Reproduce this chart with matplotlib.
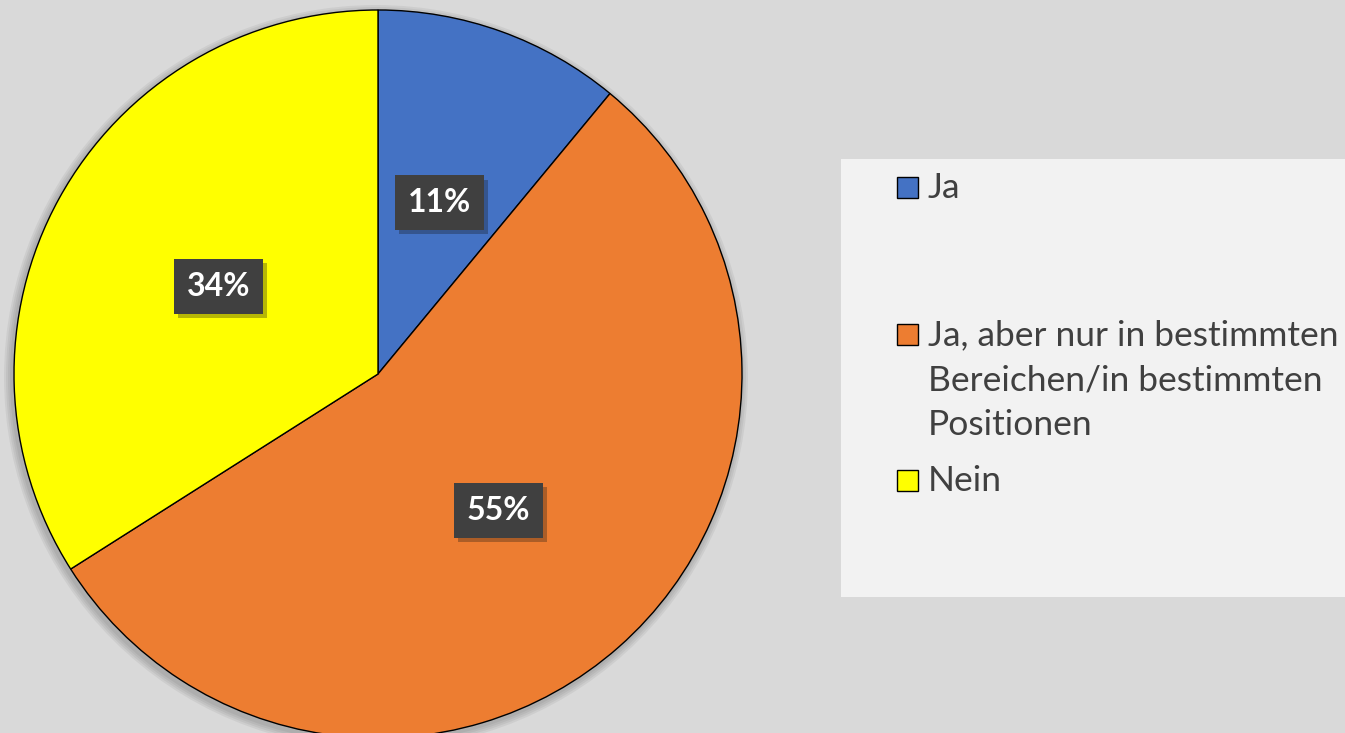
import matplotlib.pyplot as plt
from matplotlib.patches import Rectangle, Circle
import matplotlib.patheffects as pe

# Daten
labels = ["Ja", "Ja, aber nur in bestimmten\nBereichen/in bestimmten\nPositionen", "Nein"]
werte = [11, 55, 34]
farben = ["#4472C4", "#ED7D31", "#FFFF00"]

W, H = 1345, 733
fig = plt.figure(figsize=(W / 100, H / 100), dpi=100)
fig.patch.set_facecolor("#d9d9d9")
ax = fig.add_axes([0, 0, 1, 1])

mitte = (378, H - 374)
radius = 364

# weicher Schatten unter dem Kreis
for i in range(4):
    ax.add_patch(Circle((mitte[0] - 2, mitte[1] - 3), radius + 8 - 2 * i,
                        facecolor="black", edgecolor="none", alpha=0.05, zorder=0))

wedges, texts, autotexts = ax.pie(
    werte, colors=farben, startangle=90, counterclock=False,
    center=mitte, radius=radius, frame=True,
    autopct="%1.0f%%", pctdistance=0.5,
    wedgeprops=dict(edgecolor="black", linewidth=1.0),
    textprops=dict(color="white", fontsize=23, fontweight="bold", family="Lato"))
ax.set_xlim(0, W)
ax.set_ylim(0, H)
ax.axis("off")

for t in autotexts:
    t.set_bbox(dict(boxstyle="square,pad=0.4", facecolor="#404040", edgecolor="none"))
    t.get_bbox_patch().set_path_effects([pe.SimplePatchShadow(offset=(3, -3), alpha=0.3),
                                         pe.Normal()])

# Legende (manuell wie in Excel)
fig.patches.append(Rectangle((841 / W, 1 - 597 / H), (W - 841) / W, (597 - 159) / H,
                             transform=fig.transFigure, facecolor="#f2f2f2",
                             edgecolor="none", zorder=0))
grundlinie = [198, 345, 491]
zeilenabstand = 45
for lab, farbe, y in zip(labels, farben, grundlinie):
    fig.patches.append(Rectangle((897 / W, 1 - y / H), 21 / W, 21 / H,
                                 transform=fig.transFigure, facecolor=farbe,
                                 edgecolor="black", linewidth=1.0))
    for i, zeile in enumerate(lab.split("\n")):
        fig.text(928 / W, 1 - (y + i * zeilenabstand) / H, zeile, ha="left",
                 va="baseline", fontsize=25.5, family="Lato", color="#404040")

fig.savefig("out.png", dpi=100, facecolor=fig.get_facecolor())
